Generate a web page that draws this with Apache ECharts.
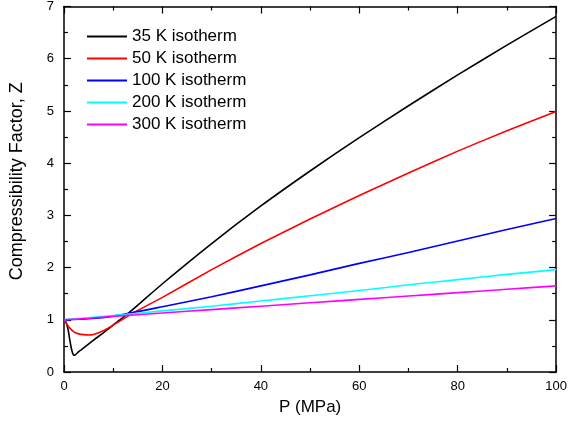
<!DOCTYPE html>
<html>
<head>
<meta charset="utf-8">
<script src="https://cdn.jsdelivr.net/npm/echarts@6/dist/echarts.min.js"></script>
<style>
  body { margin: 0; background: #fff; }
  #chart { width: 570px; height: 425px; }
</style>
</head>
<body>
<div id="chart"></div>
<script>
  // pressure (MPa) and compressibility factor
  const p35 = [0, 0.3, 0.6, 0.9, 1.2, 1.5, 1.8, 2.0, 2.3, 3, 4, 6, 8, 10, 13, 15, 20, 30, 40, 50, 60, 70, 80, 90, 100];
  const z35 = [1.0, 0.97, 0.9, 0.78, 0.6, 0.45, 0.35, 0.32, 0.33, 0.39, 0.46, 0.61, 0.75, 0.90, 1.12, 1.28, 1.69, 2.46, 3.18, 3.85, 4.49, 5.10, 5.69, 6.26, 6.81];

  const p50 = [0, 0.5, 1, 2, 3, 4, 5, 6, 8, 10, 13, 15, 20, 30, 40, 50, 60, 70, 80, 90, 100];
  const z50 = [1.0, 0.93, 0.86, 0.77, 0.73, 0.715, 0.71, 0.72, 0.79, 0.90, 1.07, 1.18, 1.43, 1.96, 2.46, 2.93, 3.38, 3.81, 4.23, 4.62, 4.99];

  const pHigh = [0, 5, 10, 20, 30, 40, 50, 60, 70, 80, 90, 100];
  const z100 = [1.0, 1.02, 1.07, 1.25, 1.44, 1.65, 1.86, 2.08, 2.29, 2.51, 2.73, 2.94];
  const z200 = [1.0, 1.04, 1.08, 1.17, 1.26, 1.36, 1.46, 1.56, 1.67, 1.77, 1.87, 1.96];
  const z300 = [1.0, 1.03, 1.065, 1.13, 1.195, 1.26, 1.325, 1.39, 1.455, 1.52, 1.585, 1.65];

  const names = ['35 K isotherm', '50 K isotherm', '100 K isotherm', '200 K isotherm', '300 K isotherm'];
  const colors = ['#000000', '#ff0000', '#0000ff', '#00ffff', '#ff00ff'];

  const font = 'Liberation Sans, Arial, sans-serif';

  function pairs(xs, ys) {
    return xs.map((x, i) => [x, ys[i]]);
  }

  const lines = [
    pairs(p35, z35),
    pairs(p50, z50),
    pairs(pHigh, z100),
    pairs(pHigh, z200),
    pairs(pHigh, z300)
  ];

  // box frame: ticks inside on all four sides
  function xAx(pos, labels) {
    return {
      type: 'value', position: pos, min: 0, max: 100, interval: 20,
      axisLine: { show: true, onZero: false, lineStyle: { color: '#000', width: 1.5 } },
      axisTick: { inside: true, length: 7, lineStyle: { color: '#000', width: 1.2 } },
      minorTick: { show: true, splitNumber: 2, length: 4, lineStyle: { color: '#000', width: 1.2 } },
      splitLine: { show: false },
      axisLabel: { show: labels, color: '#000', fontSize: 13, fontFamily: font, margin: 8 }
    };
  }
  function yAx(pos, labels) {
    return {
      type: 'value', position: pos, min: 0, max: 7, interval: 1,
      axisLine: { show: true, onZero: false, lineStyle: { color: '#000', width: 1.5 } },
      axisTick: { inside: true, length: 7, lineStyle: { color: '#000', width: 1.2 } },
      minorTick: { show: true, splitNumber: 2, length: 4, lineStyle: { color: '#000', width: 1.2 } },
      splitLine: { show: false },
      axisLabel: { show: labels, color: '#000', fontSize: 13, fontFamily: font, margin: 10 }
    };
  }

  let myChart = echarts.init(document.getElementById('chart'));
  let xBottom = xAx('bottom', true);
  xBottom.name = 'P (MPa)';
  xBottom.nameLocation = 'middle';
  xBottom.nameGap = 27;
  xBottom.nameTextStyle = { color: '#000', fontSize: 17, fontFamily: font };
  let yLeft = yAx('left', true);
  yLeft.name = 'Compressibility Factor, Z';
  yLeft.nameLocation = 'middle';
  yLeft.nameGap = 38;
  yLeft.nameTextStyle = { color: '#000', fontSize: 18, fontFamily: font, padding: [0, 0, 0, 16] };

  let option = {
    animation: false,
    backgroundColor: '#fff',
    grid: { left: 62, right: 12, top: 6, bottom: 53 },
    legend: {
      orient: 'vertical',
      left: 87,
      top: 28,
      padding: 0,
      icon: 'rect',
      itemWidth: 40,
      itemHeight: 2,
      itemGap: 5,
      data: names,
      textStyle: { color: '#000', fontSize: 17, fontFamily: font }
    },
    xAxis: [xBottom, xAx('top', false)],
    yAxis: [yLeft, yAx('right', false)],
    series: lines.map((d, i) => ({
      name: names[i],
      type: 'line',
      data: d,
      symbol: 'none',
      smooth: 0.2,
      lineStyle: { color: colors[i], width: 1.6 },
      itemStyle: { color: colors[i] }
    }))
  };
  myChart.setOption(option);
</script>
</body>
</html>
